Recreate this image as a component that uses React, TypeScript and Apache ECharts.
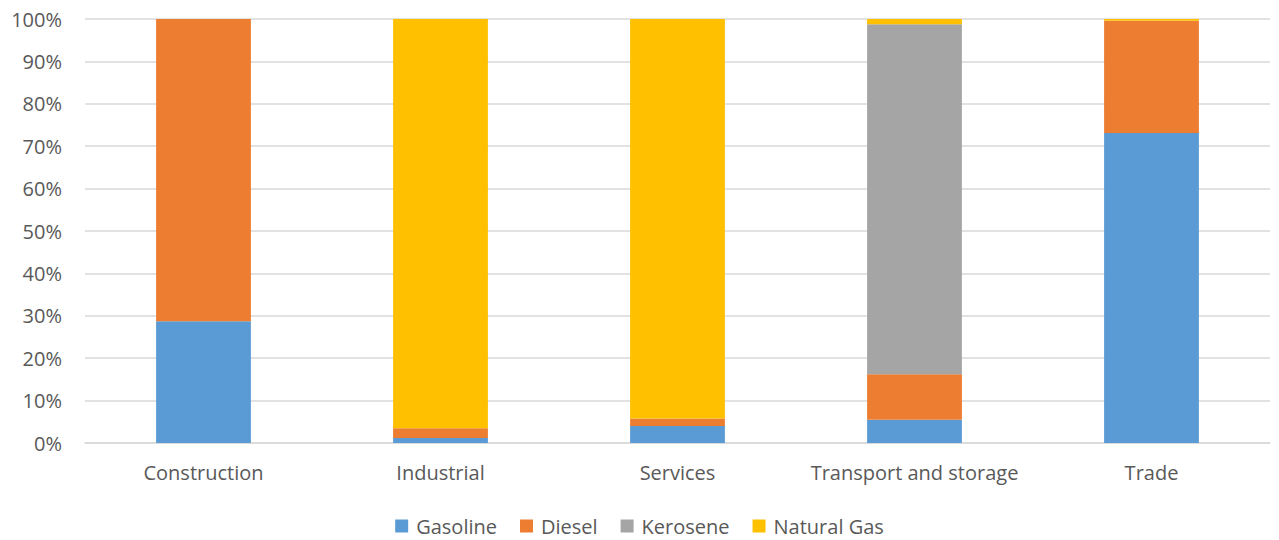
import React, { useEffect, useRef } from "react";
import * as echarts from "echarts";

const categories = ["Construction", "Industrial", "Services", "Transport and storage", "Trade"];
const seriesNames = ["Gasoline", "Diesel", "Kerosene", "Natural Gas"];
const gasoline = [28.7, 1.2, 4.0, 5.5, 73.1];
const diesel = [71.3, 2.3, 1.75, 10.7, 26.5];
const kerosene = [0, 0, 0, 82.55, 0];
const naturalGas = [0, 96.5, 94.25, 1.25, 0.4];
const colors = ["#5B9BD5", "#ED7D31", "#A5A5A5", "#FFC000"];

const FONT = "'Open Sans', 'Noto Sans', sans-serif";

export default function App() {
  const ref = useRef<HTMLDivElement>(null);
  useEffect(() => {
    const chart = echarts.init(ref.current!, null, { renderer: "svg" });
    const data = [gasoline, diesel, kerosene, naturalGas];
    chart.setOption({
      animation: false,
      textStyle: { fontFamily: FONT },
      grid: { left: 85, right: 9, top: 19, bottom: 97, containLabel: false },
      legend: {
        top: 516,
        left: "center",
        itemWidth: 13,
        itemHeight: 13,
        itemGap: 23,
        icon: "rect",
        padding: 0,
        textStyle: { fontFamily: FONT, fontSize: 20, color: "#595959", padding: [0, 0, 0, 3] },
        data: seriesNames,
      },
      xAxis: {
        type: "category",
        data: categories,
        axisLine: { lineStyle: { color: "#D9D9D9", width: 1.5 } },
        axisTick: { show: false },
        axisLabel: { fontFamily: FONT, fontSize: 20, color: "#595959", margin: 19, interval: 0, hideOverlap: false },
      },
      yAxis: {
        type: "value",
        min: 0,
        max: 100,
        interval: 10,
        axisLine: { show: false },
        axisTick: { show: false },
        splitLine: { lineStyle: { color: "#D9D9D9", width: 1.5 } },
        axisLabel: {
          fontFamily: FONT,
          fontSize: 20,
          color: "#595959",
          margin: 23,
          formatter: (v: number) => `${v}%`,
        },
      },
      series: seriesNames.map((name, i) => ({
        name,
        type: "bar",
        stack: "total",
        barCategoryGap: "60%",
        data: data[i],
        itemStyle: { color: colors[i] },
      })),
    });
    return () => chart.dispose();
  }, []);
  return <div ref={ref} style={{ width: 1279, height: 540, position: "absolute", left: 0, top: 0 }} />;
}
